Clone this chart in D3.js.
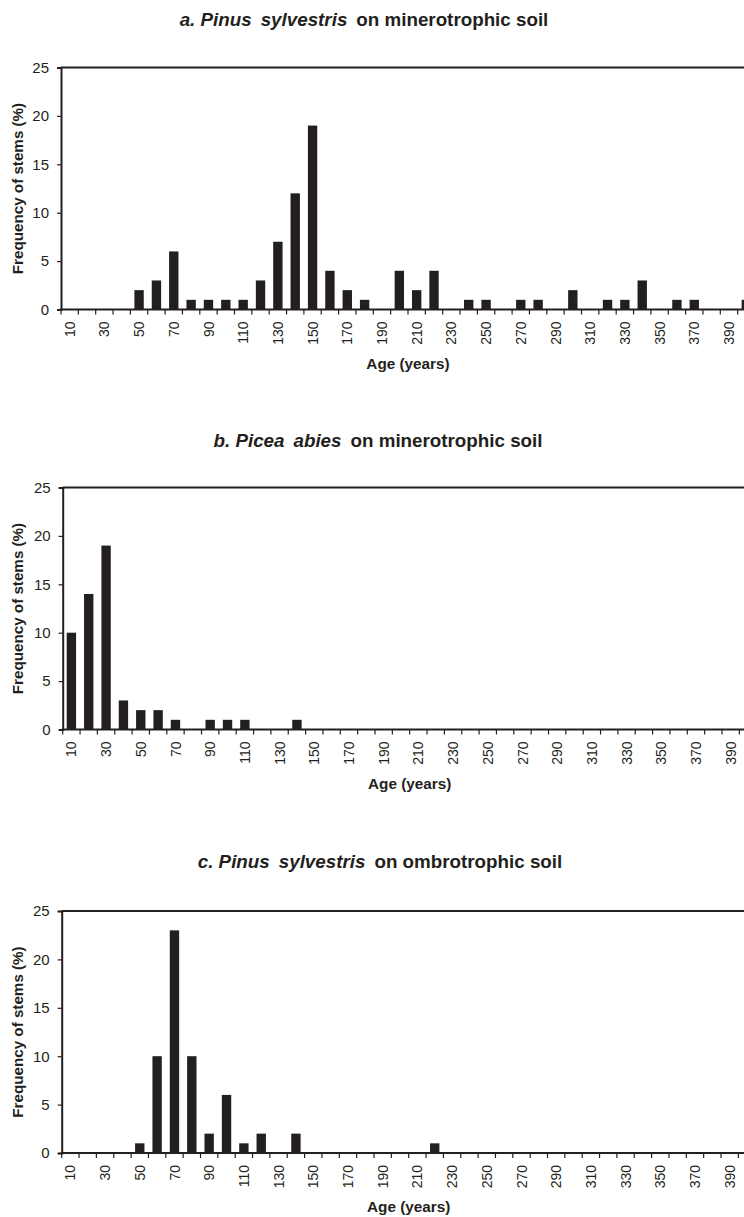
<!DOCTYPE html>
<html>
<head>
<meta charset="utf-8">
<script src="https://cdn.jsdelivr.net/npm/d3@7"></script>
<style>
  body { margin: 0; background: #fff; }
  svg { display: block; font-family: "Liberation Sans", Arial, sans-serif; }
</style>
</head>
<body>
<div id="wrapper"></div>
<script>
// age classes (years), one bar per class
const ageClasses = [10, 20, 30, 40, 50, 60, 70, 80, 90, 100,
    110, 120, 130, 140, 150, 160, 170, 180, 190, 200,
    210, 220, 230, 240, 250, 260, 270, 280, 290, 300,
    310, 320, 330, 340, 350, 360, 370, 380, 390, 400];
const ageTickLabels = [10, 30, 50, 70, 90, 110, 130, 150, 170, 190,
    210, 230, 250, 270, 290, 310, 330, 350, 370, 390];
const freqTicks = [0, 5, 10, 15, 20, 25];

// frequency of stems (%)
const pinusMinerotrophic = [0, 0, 0, 0, 2, 3, 6, 1, 1, 1,
    1, 3, 7, 12, 19, 4, 2, 1, 0, 4,
    2, 4, 0, 1, 1, 0, 1, 1, 0, 2,
    0, 1, 1, 3, 0, 1, 1, 0, 0, 1];
const piceaMinerotrophic = [10, 14, 19, 3, 2, 2, 1, 0, 1, 1,
    1, 0, 0, 1, 0, 0, 0, 0, 0, 0,
    0, 0, 0, 0, 0, 0, 0, 0, 0, 0,
    0, 0, 0, 0, 0, 0, 0, 0, 0, 0];
const pinusOmbrotrophic = [0, 0, 0, 0, 1, 10, 23, 10, 2, 6,
    1, 2, 0, 2, 0, 0, 0, 0, 0, 0,
    0, 1, 0, 0, 0, 0, 0, 0, 0, 0,
    0, 0, 0, 0, 0, 0, 0, 0, 0, 0];

const panels = [
    { letter: "a.", genus: "Pinus", species: "sylvestris", soil: "on minerotrophic soil",
      values: pinusMinerotrophic, left: 61, top: 67.5, titleX: 364, titleY: 26 },
    { letter: "b.", genus: "Picea", species: "abies", soil: "on minerotrophic soil",
      values: piceaMinerotrophic, left: 62.7, top: 487.5, titleX: 378, titleY: 447 },
    { letter: "c.", genus: "Pinus", species: "sylvestris", soil: "on ombrotrophic soil",
      values: pinusOmbrotrophic, left: 61.7, top: 911, titleX: 380, titleY: 868 }
];

const ink = "#231f20";
const fontFamily = "Liberation Sans, Arial, sans-serif";
const dimension = { width: 744, height: 1217, plotWidth: 694, plotHeight: 242 };

const svg = d3.select("#wrapper").append("svg")
    .attr("width", dimension.width)
    .attr("height", dimension.height);

const xScaler = d3.scaleBand()
    .domain(ageClasses)
    .range([0, dimension.plotWidth])
    .paddingInner(0.46)
    .paddingOuter(0.23);

const yScaler = d3.scaleLinear()
    .domain([0, 25])
    .range([dimension.plotHeight, 0]);

const stepOffset = xScaler.step() * xScaler.paddingInner() / 2;

panels.forEach(p => {
    // title
    const title = svg.append("text")
        .attr("x", p.titleX)
        .attr("y", p.titleY)
        .attr("text-anchor", "middle")
        .attr("font-size", 18.8)
        .attr("font-weight", "bold")
        .attr("fill", ink);
    title.append("tspan").attr("font-style", "italic").text(p.letter + " " + p.genus);
    title.append("tspan").attr("font-style", "italic").attr("dx", 9).text(p.species);
    title.append("tspan").attr("dx", 9).text(p.soil);

    const bounded = svg.append("g")
        .attr("transform", `translate(${p.left}, ${p.top})`);

    // bars
    bounded.selectAll("rect")
        .data(ageClasses.map((a, i) => ({ age: a, value: p.values[i] })).filter(d => d.value > 0))
        .join("rect")
        .attr("x", d => xScaler(d.age))
        .attr("width", xScaler.bandwidth())
        .attr("y", d => yScaler(d.value))
        .attr("height", d => yScaler(0) - yScaler(d.value))
        .attr("fill", ink);

    // top border
    bounded.append("line")
        .attr("x1", 0).attr("x2", dimension.plotWidth)
        .attr("y1", yScaler(25)).attr("y2", yScaler(25))
        .attr("stroke", ink).attr("stroke-width", 2);

    // y axis
    const yAxis = d3.axisLeft(yScaler).tickValues(freqTicks).tickSize(4).tickPadding(8);
    const yG = bounded.append("g").call(yAxis);
    yG.attr("font-size", 15).attr("font-family", fontFamily);
    yG.select(".domain").attr("stroke", ink).attr("stroke-width", 2);
    yG.selectAll(".tick line").attr("stroke", ink).attr("stroke-width", 1.2);
    yG.selectAll(".tick text").attr("fill", ink);

    // x axis: labels centred in bands, ticks at band boundaries
    const xAxis = d3.axisBottom(xScaler).tickValues(ageTickLabels).tickSize(0);
    const xG = bounded.append("g")
        .attr("transform", `translate(0, ${dimension.plotHeight})`)
        .call(xAxis);
    xG.attr("font-size", 14).attr("font-family", fontFamily);
    xG.select(".domain").remove();
    xG.selectAll(".tick text")
        .attr("fill", ink)
        .attr("transform", "rotate(-90)")
        .attr("text-anchor", "end")
        .attr("x", -12)
        .attr("y", 0)
        .attr("dy", "0.36em");

    bounded.append("line")
        .attr("x1", -1).attr("x2", dimension.plotWidth)
        .attr("y1", dimension.plotHeight).attr("y2", dimension.plotHeight)
        .attr("stroke", ink).attr("stroke-width", 2);

    bounded.append("g")
        .selectAll("line")
        .data(ageClasses)
        .join("line")
        .attr("x1", d => xScaler(d) - stepOffset)
        .attr("x2", d => xScaler(d) - stepOffset)
        .attr("y1", dimension.plotHeight)
        .attr("y2", dimension.plotHeight + 5)
        .attr("stroke", ink)
        .attr("stroke-width", 1.2);

    // axis titles
    bounded.append("text")
        .attr("x", dimension.plotWidth / 2)
        .attr("y", dimension.plotHeight + 59)
        .attr("text-anchor", "middle")
        .attr("font-size", 15.3)
        .attr("font-weight", "bold")
        .attr("fill", ink)
        .text("Age (years)");

    bounded.append("text")
        .attr("transform", `translate(${23 - p.left}, ${dimension.plotHeight / 2}) rotate(-90)`)
        .attr("text-anchor", "middle")
        .attr("font-size", 15.2)
        .attr("font-weight", "bold")
        .attr("fill", ink)
        .text("Frequency of stems (%)");
});
</script>
</body>
</html>
